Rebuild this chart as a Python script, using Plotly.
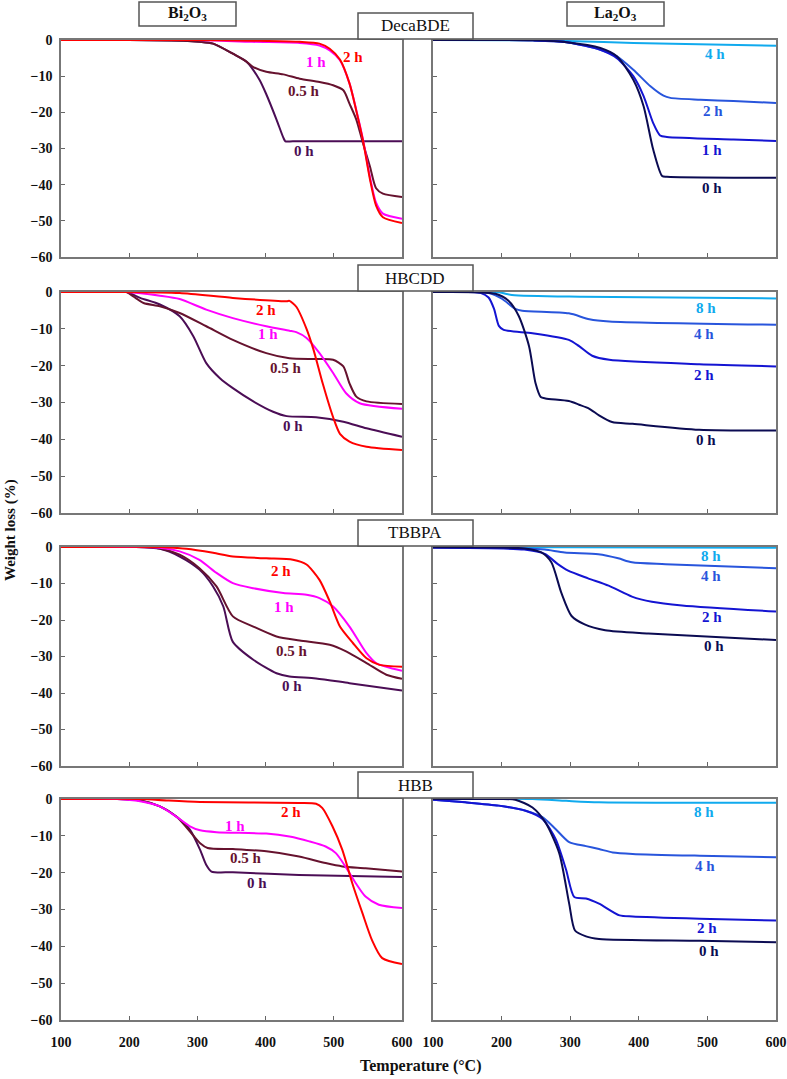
import plotly.graph_objects as go

W_PX, H_PX = 787, 1079

# ---------------- data ----------------
# DecaBDE / Bi2O3
deca_bi_0h_T = [100, 200, 280, 303, 323, 352, 372, 391, 401, 416, 426, 429, 440, 600]
deca_bi_0h_W = [0, 0, -0.2, -0.5, -1, -3.8, -6, -11, -15, -22, -27, -28, -28, -28]
deca_bi_05h_T = [100, 200, 280, 303, 323, 352, 372, 382, 401, 426, 450, 479, 499, 514, 523, 533, 543, 553, 562, 572, 600]
deca_bi_05h_W = [0, 0, -0.2, -0.5, -1, -3.8, -6, -7.5, -8.8, -9.5, -10.7, -11.6, -12.5, -13.9, -17.6, -22, -28.7, -35, -41, -42.5, -43.4]
deca_bi_1h_T = [100, 300, 380, 450, 479, 494, 509, 523, 533, 543, 553, 562, 572, 600]
deca_bi_1h_W = [0, 0, -0.5, -0.8, -1.5, -2.9, -5.6, -12, -19.4, -27.7, -37.9, -45, -48, -49.4]
deca_bi_2h_T = [100, 300, 380, 450, 479, 494, 509, 523, 533, 543, 553, 562, 572, 600]
deca_bi_2h_W = [0, 0, -0.2, -0.5, -1, -2.4, -5.4, -12, -19.6, -28, -38.5, -45.8, -49, -50.6]

# DecaBDE / La2O3
deca_la_4h_T = [100, 250, 295, 392, 600]
deca_la_4h_W = [0, -0.1, -0.3, -0.8, -1.6]
deca_la_2h_T = [100, 246, 295, 344, 368, 392, 417, 436, 446, 490, 538, 600]
deca_la_2h_W = [0, -0.1, -0.6, -2.7, -4.5, -8.2, -12.8, -15.4, -16, -16.5, -16.9, -17.4]
deca_la_1h_T = [100, 246, 295, 344, 368, 392, 407, 421, 431, 441, 538, 600]
deca_la_1h_W = [0, -0.1, -0.6, -2.7, -5, -10, -15.5, -23, -26.4, -26.8, -27.5, -27.9]
deca_la_0h_T = [100, 246, 295, 344, 368, 392, 407, 421, 434, 441, 600]
deca_la_0h_W = [0, -0.1, -0.6, -2.2, -4.5, -11, -18.3, -30.3, -37.6, -37.8, -38.1]

# HBCDD / Bi2O3
hbcdd_bi_0h_T = [100, 196, 216, 245, 274, 294, 313, 333, 352, 382, 411, 431, 474, 514, 548, 600]
hbcdd_bi_0h_W = [0, 0, -1.6, -3.4, -6.6, -12, -19.3, -23.4, -26.1, -29.7, -32.5, -33.7, -34, -35.2, -37, -39.3]
hbcdd_bi_05h_T = [100, 196, 206, 221, 245, 274, 313, 352, 401, 435, 474, 499, 514, 523, 533, 548, 600]
hbcdd_bi_05h_W = [0, 0, -1.2, -3, -3.9, -5.7, -9.3, -13, -16.6, -18, -18.2, -18.4, -20.2, -24.8, -28.4, -29.7, -30.4]
hbcdd_bi_1h_T = [100, 196, 245, 274, 313, 352, 401, 435, 445, 460, 479, 499, 518, 538, 600]
hbcdd_bi_1h_W = [0, 0, -1, -1.9, -4.8, -7.1, -9.3, -10.5, -10.9, -12.5, -16.6, -22, -27.5, -30.2, -31.7]
hbcdd_bi_2h_T = [100, 196, 274, 352, 431, 435, 445, 460, 470, 484, 499, 509, 523, 548, 600]
hbcdd_bi_2h_W = [0, 0, -0.3, -1.6, -2.5, -2.4, -4, -10, -15.5, -25, -34, -38.5, -40.6, -42, -42.9]

# HBCDD / La2O3
hbcdd_la_8h_T = [100, 196, 215, 318, 600]
hbcdd_la_8h_W = [0, -0.1, -0.8, -1.3, -1.75]
hbcdd_la_4h_T = [100, 181, 201, 220, 230, 298, 328, 357, 600]
hbcdd_la_4h_W = [0, -0.3, -1.9, -4.6, -5.1, -5.8, -7.4, -8, -8.9]
hbcdd_la_2h_T = [100, 170, 181, 189, 196, 203, 245, 298, 313, 332, 357, 488, 600]
hbcdd_la_2h_W = [0, -0.3, -1.5, -4.6, -9.2, -10.3, -11.2, -13, -14.7, -17.3, -18.4, -19.6, -20.2]
hbcdd_la_0h_T = [100, 191, 210, 225, 240, 249.5, 257, 264, 298, 313, 328, 342, 361, 391, 488, 600]
hbcdd_la_0h_W = [0, -0.5, -2.4, -6.5, -14.7, -24.8, -28.5, -28.9, -29.6, -30.6, -31.7, -33.5, -35.3, -35.8, -37.4, -37.6]

# TBBPA / Bi2O3
tbbpa_bi_0h_T = [100, 206, 245, 274, 303, 323, 338, 352, 382, 416, 435, 474, 523, 600]
tbbpa_bi_0h_W = [0, 0, -0.5, -2.6, -6.2, -10.8, -16.3, -26, -30.9, -34.6, -35.5, -36, -37.3, -39.3]
tbbpa_bi_05h_T = [100, 206, 245, 274, 303, 328, 352, 382, 416, 450, 494, 518, 548, 577, 600]
tbbpa_bi_05h_W = [0, 0, -0.4, -2.1, -5.8, -10.8, -19, -21.8, -24.5, -25.6, -26.8, -28.6, -31.8, -35, -36.1]
tbbpa_bi_1h_T = [100, 206, 245, 274, 303, 328, 352, 382, 426, 460, 479, 499, 523, 548, 562, 600]
tbbpa_bi_1h_W = [0, 0, -0.2, -1.2, -3.5, -7.1, -9.9, -11.3, -12.6, -13.1, -14, -16.3, -21.8, -29.1, -31.8, -33.9]
tbbpa_bi_2h_T = [100, 245, 284, 323, 352, 401, 440, 460, 479, 494, 509, 528, 548, 567, 600]
tbbpa_bi_2h_W = [0, 0, -0.5, -1.6, -2.6, -3.1, -3.5, -4.8, -9, -14.9, -21.8, -26.3, -30.5, -32.3, -32.8]

# TBBPA / La2O3
tbbpa_la_8h_T = [100, 300, 600]
tbbpa_la_8h_W = [0, -0.1, -0.2]
tbbpa_la_4h_T = [100, 233, 263, 292, 341, 370, 390, 439, 600]
tbbpa_la_4h_W = [-0.1, -0.4, -0.7, -1.5, -2, -3.1, -4.2, -4.7, -5.8]
tbbpa_la_2h_T = [100, 233, 263, 282, 297, 326, 356, 390, 419, 463, 600]
tbbpa_la_2h_W = [-0.2, -0.7, -1.9, -4.7, -6.5, -8.6, -10.6, -13.6, -15, -16, -17.7]
tbbpa_la_0h_T = [100, 233, 258, 272.5, 287, 302, 321, 351, 414, 600]
tbbpa_la_0h_W = [-0.1, -0.4, -1.5, -4.2, -12.5, -18.9, -21.2, -22.8, -23.7, -25.5]

# HBB / Bi2O3
hbb_bi_0h_T = [100, 182, 216, 245, 270, 289, 304, 313, 320.6, 352, 449, 600]
hbb_bi_0h_W = [0, 0, -0.4, -2, -4.9, -8.3, -13.8, -17.9, -19.7, -19.9, -20.6, -21.2]
hbb_bi_05h_T = [100, 182, 216, 245, 270, 293, 304, 315, 352, 401, 449, 488, 512.5, 546.5, 600]
hbb_bi_05h_W = [0, 0, -0.4, -2, -4.9, -9.7, -12, -13.3, -13.6, -14.2, -15.6, -17.4, -18.3, -18.8, -19.7]
hbb_bi_1h_T = [100, 182, 216, 245, 270, 289, 304, 328, 401, 435, 464, 488, 503, 517, 532, 546.5, 566, 600]
hbb_bi_1h_W = [0, 0, -0.6, -2, -4.9, -7.4, -8.5, -9, -9.4, -10.2, -11.5, -12.9, -14.7, -18.3, -22.8, -26.5, -28.7, -29.6]
hbb_bi_2h_T = [100, 216, 255, 304, 449, 474, 483, 498, 512.5, 527, 542, 556, 571, 600]
hbb_bi_2h_W = [0, 0, -0.4, -0.8, -1.1, -1.3, -2.4, -7.4, -13.8, -22.8, -31, -38.3, -43.2, -44.8]

# HBB / La2O3
hbb_la_8h_T = [100, 245, 294, 342, 600]
hbb_la_8h_W = [0, 0, -0.5, -0.9, -1]
hbb_la_4h_T = [100, 147, 196, 235, 260, 279, 298.5, 323, 342, 362, 391, 489, 600]
hbb_la_4h_W = [-0.2, -0.9, -1.8, -3.2, -5, -8.2, -11.7, -12.8, -13.6, -14.5, -14.9, -15.4, -15.8]
hbb_la_2h_T = [100, 147, 196, 235, 260, 279, 294, 306, 323, 342, 372, 391, 489, 600]
hbb_la_2h_W = [-0.2, -0.9, -1.8, -3.2, -5.5, -11, -19.2, -26.6, -27, -28.4, -31.6, -31.9, -32.5, -33]
hbb_la_0h_T = [100, 196, 220, 245, 264, 284, 298.5, 307, 323, 342, 489, 600]
hbb_la_0h_W = [0, 0, -0.2, -2.3, -6.4, -14.7, -28.4, -35.7, -37.3, -38, -38.5, -38.9]

x_ticks = [100, 200, 300, 400, 500, 600]
y_ticks = [0, -10, -20, -30, -40, -50, -60]
compounds = ["DecaBDE", "HBCDD", "TBBPA", "HBB"]

# ---------------- styles ----------------
C_BI = {"0 h": "#4B0D55", "0.5 h": "#66122E", "1 h": "#FF00FF", "2 h": "#FF0000"}
LA_DARK, LA_BLUE, LA_MID, LA_LIGHT = "#0B0B52", "#1414D2", "#2855DC", "#10AAEE"

FONT_SERIF = "Liberation Serif, Times New Roman, serif"

def px_x(p):
    return p / W_PX

def px_y(p):
    return 1 - p / H_PX

LEFT_DOM = [px_x(61), px_x(402)]
RIGHT_DOM = [px_x(433), px_x(776)]
ROW_PX = [(40, 257), (292, 513), (547, 766), (799, 1020)]

fig = go.Figure()

panels = [
    (0, 0, [(deca_bi_0h_T, deca_bi_0h_W, C_BI["0 h"]), (deca_bi_05h_T, deca_bi_05h_W, C_BI["0.5 h"]),
            (deca_bi_1h_T, deca_bi_1h_W, C_BI["1 h"]), (deca_bi_2h_T, deca_bi_2h_W, C_BI["2 h"])],
     [("2 h", 528, -4.7, C_BI["2 h"]), ("1 h", 473.5, -6.1, C_BI["1 h"]),
      ("0.5 h", 457, -14.1, C_BI["0.5 h"]), ("0 h", 456, -30.7, C_BI["0 h"])]),
    (0, 1, [(deca_la_4h_T, deca_la_4h_W, LA_LIGHT), (deca_la_2h_T, deca_la_2h_W, LA_MID),
            (deca_la_1h_T, deca_la_1h_W, LA_BLUE), (deca_la_0h_T, deca_la_0h_W, LA_DARK)],
     [("4 h", 511.5, -3.8, LA_LIGHT), ("2 h", 508, -19.5, LA_MID),
      ("1 h", 506.5, -30.5, LA_BLUE), ("0 h", 506.5, -40.8, LA_DARK)]),
    (1, 0, [(hbcdd_bi_0h_T, hbcdd_bi_0h_W, C_BI["0 h"]), (hbcdd_bi_05h_T, hbcdd_bi_05h_W, C_BI["0.5 h"]),
            (hbcdd_bi_1h_T, hbcdd_bi_1h_W, C_BI["1 h"]), (hbcdd_bi_2h_T, hbcdd_bi_2h_W, C_BI["2 h"])],
     [("2 h", 401, -5, C_BI["2 h"]), ("1 h", 403, -11.3, C_BI["1 h"]),
      ("0.5 h", 430.6, -20.7, C_BI["0.5 h"]), ("0 h", 440, -36.3, C_BI["0 h"])]),
    (1, 1, [(hbcdd_la_8h_T, hbcdd_la_8h_W, LA_LIGHT), (hbcdd_la_4h_T, hbcdd_la_4h_W, LA_MID),
            (hbcdd_la_2h_T, hbcdd_la_2h_W, LA_BLUE), (hbcdd_la_0h_T, hbcdd_la_0h_W, LA_DARK)],
     [("8 h", 498, -4.4, LA_LIGHT), ("4 h", 495, -11.3, LA_MID),
      ("2 h", 495, -22.5, LA_BLUE), ("0 h", 498, -40.2, LA_DARK)]),
    (2, 0, [(tbbpa_bi_0h_T, tbbpa_bi_0h_W, C_BI["0 h"]), (tbbpa_bi_05h_T, tbbpa_bi_05h_W, C_BI["0.5 h"]),
            (tbbpa_bi_1h_T, tbbpa_bi_1h_W, C_BI["1 h"]), (tbbpa_bi_2h_T, tbbpa_bi_2h_W, C_BI["2 h"])],
     [("2 h", 423, -6.7, C_BI["2 h"]), ("1 h", 426.6, -16.3, C_BI["1 h"]),
      ("0.5 h", 438, -28.5, C_BI["0.5 h"]), ("0 h", 439, -38.2, C_BI["0 h"])]),
    (2, 1, [(tbbpa_la_8h_T, tbbpa_la_8h_W, LA_LIGHT), (tbbpa_la_4h_T, tbbpa_la_4h_W, LA_MID),
            (tbbpa_la_2h_T, tbbpa_la_2h_W, LA_BLUE), (tbbpa_la_0h_T, tbbpa_la_0h_W, LA_DARK)],
     [("8 h", 505.6, -2.4, LA_LIGHT), ("4 h", 504.6, -7.9, LA_MID),
      ("2 h", 507, -19.2, LA_BLUE), ("0 h", 509, -27.2, LA_DARK)]),
    (3, 0, [(hbb_bi_0h_T, hbb_bi_0h_W, C_BI["0 h"]), (hbb_bi_05h_T, hbb_bi_05h_W, C_BI["0.5 h"]),
            (hbb_bi_1h_T, hbb_bi_1h_W, C_BI["1 h"]), (hbb_bi_2h_T, hbb_bi_2h_W, C_BI["2 h"])],
     [("2 h", 437, -3.5, C_BI["2 h"]), ("1 h", 355.6, -7.2, C_BI["1 h"]),
      ("0.5 h", 371.6, -16, C_BI["0.5 h"]), ("0 h", 387.7, -22.7, C_BI["0 h"])]),
    (3, 1, [(hbb_la_8h_T, hbb_la_8h_W, LA_LIGHT), (hbb_la_4h_T, hbb_la_4h_W, LA_MID),
            (hbb_la_2h_T, hbb_la_2h_W, LA_BLUE), (hbb_la_0h_T, hbb_la_0h_W, LA_DARK)],
     [("8 h", 494.6, -3.5, LA_LIGHT), ("4 h", 496, -18.1, LA_MID),
      ("2 h", 499.5, -35, LA_BLUE), ("0 h", 502, -41.4, LA_DARK)]),
]

layout_axes = {}
annotations = []
for i, (row, col, series, labels) in enumerate(panels):
    n = i + 1
    xa = "x" if n == 1 else f"x{n}"
    ya = "y" if n == 1 else f"y{n}"
    top, bot = ROW_PX[row]
    for T, Wt, color in series:
        fig.add_trace(go.Scatter(x=T, y=Wt, mode="lines", xaxis=xa, yaxis=ya,
                                 line=dict(color=color, width=2, shape="spline", smoothing=0.7),
                                 showlegend=False, hoverinfo="skip"))
    for text, lx, ly, color in labels:
        annotations.append(dict(x=lx, y=ly, xref=xa, yref=ya, text=f"<b>{text}</b>",
                                xanchor="center", yanchor="middle",
                                showarrow=False, font=dict(family=FONT_SERIF, size=15, color=color)))
    show_x = row == 3
    layout_axes[f"xaxis{'' if n == 1 else n}"] = dict(
        domain=LEFT_DOM if col == 0 else RIGHT_DOM, anchor=ya, range=[100, 600], automargin=False,
        tickvals=x_ticks, showticklabels=show_x, ticks="inside", ticklen=4, tickcolor="#666",
        ticklabelstandoff=8,
        showline=True, linecolor="#777", linewidth=1.5, mirror=True, showgrid=False, zeroline=False,
        tickfont=dict(family=FONT_SERIF, size=14, color="#111", weight="bold"))
    layout_axes[f"yaxis{'' if n == 1 else n}"] = dict(
        domain=[px_y(bot), px_y(top)], anchor=xa, range=[-60, 0], automargin=False,
        tickvals=y_ticks, showticklabels=(col == 0), ticks="inside", ticklen=4, tickcolor="#666",
        ticklabelstandoff=4,
        showline=True, linecolor="#777", linewidth=1.5, mirror=True, showgrid=False, zeroline=False,
        tickfont=dict(family=FONT_SERIF, size=14, color="#111", weight="bold"))

boxes = [
    ("<b>Bi<sub>2</sub>O<sub>3</sub></b>", 139, 236, 2, 26, 16),
    ("<b>La<sub>2</sub>O<sub>3</sub></b>", 567, 664, 2, 26, 16),
]
for k, (y0, y1) in zip(compounds, [(13, 39), (265, 291), (520, 546), (772, 798)]):
    boxes.append((k, 358, 473, y0, y1, 17))

shapes = []
for text, x0, x1, y0, y1, fs in boxes:
    shapes.append(dict(type="rect", xref="paper", yref="paper", x0=px_x(x0), x1=px_x(x1),
                       y0=px_y(y1), y1=px_y(y0), line=dict(color="#555", width=1.5),
                       fillcolor="white", layer="above"))
    annotations.append(dict(x=px_x((x0 + x1) / 2), y=px_y((y0 + y1) / 2), xref="paper", yref="paper",
                            xanchor="center", yanchor="middle",
                            text=text, showarrow=False,
                            font=dict(family=FONT_SERIF, size=fs, color="#111")))

annotations.append(dict(x=px_x(420), y=px_y(1066), xref="paper", yref="paper",
                        xanchor="center", yanchor="middle",
                        text="<b>Temperature (°C)</b>", showarrow=False,
                        font=dict(family=FONT_SERIF, size=16, color="#111")))
annotations.append(dict(x=px_x(10), y=px_y(530), xref="paper", yref="paper",
                        xanchor="center", yanchor="middle",
                        text="<b>Weight loss (%)</b>", showarrow=False, textangle=-90,
                        font=dict(family=FONT_SERIF, size=15, color="#111")))

fig.update_layout(width=W_PX, height=H_PX, margin=dict(l=0, r=0, t=0, b=0, autoexpand=False),
                  paper_bgcolor="white", plot_bgcolor="white",
                  shapes=shapes, annotations=annotations, **layout_axes)

fig.write_html("out.html", config={"displayModeBar": False},
               post_script="document.body.style.margin='0';document.body.style.padding='0';")
